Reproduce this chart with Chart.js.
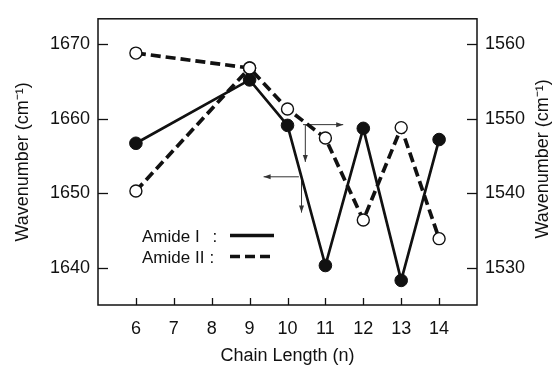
<!DOCTYPE html>
<html>
<head>
<meta charset="utf-8">
<script src="https://cdn.jsdelivr.net/npm/chart.js@4/dist/chart.umd.min.js"></script>
<style>
  html, body { margin: 0; padding: 0; background: #fff; }
  #wrap { width: 554px; height: 369px; }
</style>
</head>
<body>
<div id="wrap"><canvas id="c" width="554" height="369"></canvas></div>
<script>
// ---- data ----
const chainLength = [6, 9, 10, 11, 12, 13, 14];
const amideI  = [1656.7, 1665.2, 1659.1, 1640.3, 1658.7, 1638.3, 1657.2]; // left axis
const amideII = [1558.8, 1556.8, 1551.3, 1547.4, 1536.4, 1548.8, 1533.9]; // right axis
// second Amide II measurement at n = 6, joined to n = 9
const amideIIAltX = [6, 9];
const amideIIAlt  = [1540.3, 1556.8];
const xTicks      = [6, 7, 8, 9, 10, 11, 12, 13, 14];
const leftTicks   = [1640, 1650, 1660, 1670];
const rightTicks  = [1530, 1540, 1550, 1560];
const seriesNames = ['Amide I', 'Amide II'];
const axisTitleY  = 'Wavenumber (cm\u207B\u00B9)';
const axisTitleX  = 'Chain Length (n)';
// annotation arrows in data units (x, left-axis value)
const arrowsFrom = [[10.41, 1659.2], [10.47, 1659.2], [10.30, 1652.2], [10.37, 1652.2]];
const arrowsTo   = [[11.47, 1659.2], [10.47, 1654.2], [9.37, 1652.2], [10.37, 1647.4]];

const FONT = '"Liberation Sans", Arial, Helvetica, sans-serif';
const INK = '#111';

const decorPlugin = {
  id: 'decor',
  beforeDatasetsDraw(chart) {
    const {ctx, chartArea: a, scales} = chart;
    ctx.save();
    ctx.strokeStyle = INK;
    ctx.lineWidth = 1.5;
    ctx.strokeRect(a.left, a.top, a.right - a.left, a.bottom - a.top);
    ctx.lineWidth = 1.3;
    const seg = (x1, y1, x2, y2) => { ctx.beginPath(); ctx.moveTo(x1, y1); ctx.lineTo(x2, y2); ctx.stroke(); };
    scales.x.ticks.forEach(t => { const p = Math.round(scales.x.getPixelForValue(t.value)) + 0.5; seg(p, a.bottom, p, a.bottom - 7); });
    scales.y.ticks.forEach(t => { const p = Math.round(scales.y.getPixelForValue(t.value)) + 0.5; seg(a.left, p, a.left + 10, p); });
    scales.y2.ticks.forEach(t => { const p = Math.round(scales.y2.getPixelForValue(t.value)) + 0.5; seg(a.right, p, a.right - 10, p); });
    // arrows
    ctx.strokeStyle = '#333'; ctx.fillStyle = '#333'; ctx.lineWidth = 1;
    arrowsFrom.forEach((f, i) => {
      const t = arrowsTo[i];
      const x1 = scales.x.getPixelForValue(f[0]), y1 = scales.y.getPixelForValue(f[1]);
      const x2 = scales.x.getPixelForValue(t[0]), y2 = scales.y.getPixelForValue(t[1]);
      seg(x1, y1, x2, y2);
      const ang = Math.atan2(y2 - y1, x2 - x1), L = 7, W = 2.5;
      ctx.beginPath();
      ctx.moveTo(x2, y2);
      ctx.lineTo(x2 - L * Math.cos(ang) + W * Math.sin(ang), y2 - L * Math.sin(ang) - W * Math.cos(ang));
      ctx.lineTo(x2 - L * Math.cos(ang) - W * Math.sin(ang), y2 - L * Math.sin(ang) + W * Math.cos(ang));
      ctx.closePath(); ctx.fill();
    });
    ctx.restore();
  },
  afterDraw(chart) {
    const {ctx, chartArea: a} = chart;
    ctx.save();
    ctx.fillStyle = INK;
    // right axis title (reads bottom to top)
    ctx.font = '18px ' + FONT;
    ctx.translate(543, (a.top + a.bottom) / 2 - 3);
    ctx.rotate(-Math.PI / 2);
    ctx.textAlign = 'center'; ctx.textBaseline = 'middle';
    ctx.fillText(axisTitleY, 0, 0);
    ctx.restore();
    // legend
    ctx.save();
    ctx.fillStyle = INK; ctx.strokeStyle = INK;
    ctx.font = '17px ' + FONT;
    ctx.textBaseline = 'alphabetic'; ctx.textAlign = 'left';
    ctx.fillText(seriesNames[0], 142, 241.5);
    ctx.fillText(':', 212.5, 241.5);
    ctx.fillText(seriesNames[1], 142, 262.5);
    ctx.fillText(':', 209.5, 262.5);
    ctx.lineWidth = 3.3;
    ctx.beginPath(); ctx.moveTo(230, 235.5); ctx.lineTo(274, 235.5); ctx.stroke();
    ctx.setLineDash([10, 5]);
    ctx.beginPath(); ctx.moveTo(230, 256.5); ctx.lineTo(271, 256.5); ctx.stroke();
    ctx.restore();
  }
};

const tickFont = {family: FONT, size: 18};
const plain = v => String(v);

const openStyle = {
  yAxisID: 'y2',
  borderColor: INK, borderWidth: 3.7, borderDash: [10, 5],
  pointRadius: 6, pointBackgroundColor: '#fff', pointBorderColor: INK, pointBorderWidth: 1.4,
  tension: 0
};

new Chart(document.getElementById('c'), {
  type: 'line',
  data: {
    datasets: [
      {
        label: seriesNames[0],
        data: chainLength.map((x, i) => ({x, y: amideI[i]})),
        yAxisID: 'y',
        borderColor: INK, borderWidth: 2.7,
        pointRadius: 6.3, pointBackgroundColor: INK, pointBorderColor: INK, pointBorderWidth: 1,
        tension: 0, order: 2
      },
      Object.assign({
        label: seriesNames[1] + ' (2)',
        data: amideIIAltX.map((x, i) => ({x, y: amideIIAlt[i]})),
        order: 1
      }, openStyle),
      Object.assign({
        label: seriesNames[1],
        data: chainLength.map((x, i) => ({x, y: amideII[i]})),
        order: 0
      }, openStyle)
    ]
  },
  options: {
    responsive: false,
    animation: false,
    layout: {padding: {top: 13, left: 0, right: 0, bottom: 0}},
    plugins: {legend: {display: false}, tooltip: {enabled: false}},
    scales: {
      x: {
        type: 'linear', min: 5, max: 15,
        afterBuildTicks: s => { s.ticks = xTicks.map(v => ({value: v})); },
        afterFit: s => { s.height = 64; },
        grid: {display: false, drawTicks: false},
        border: {display: false},
        ticks: {font: tickFont, color: INK, padding: 13, autoSkip: false, maxRotation: 0, callback: plain},
        title: {display: true, text: axisTitleX, font: {family: FONT, size: 18}, color: INK, padding: {top: 0, bottom: 2}}
      },
      y: {
        position: 'left', min: 1635, max: 1673.4,
        afterBuildTicks: s => { s.ticks = leftTicks.map(v => ({value: v})); },
        afterFit: s => { s.width = 98; },
        grid: {display: false, drawTicks: false},
        border: {display: false},
        ticks: {font: tickFont, color: INK, padding: 8, callback: plain},
        title: {display: true, text: axisTitleY, font: {family: FONT, size: 18}, color: INK, padding: {top: 12, bottom: 0}}
      },
      y2: {
        position: 'right', min: 1525, max: 1563.4,
        afterBuildTicks: s => { s.ticks = rightTicks.map(v => ({value: v})); },
        afterFit: s => { s.width = 77; },
        grid: {display: false, drawTicks: false},
        border: {display: false},
        ticks: {font: tickFont, color: INK, padding: 8, callback: plain}
      }
    }
  },
  plugins: [decorPlugin]
});
</script>
</body>
</html>
